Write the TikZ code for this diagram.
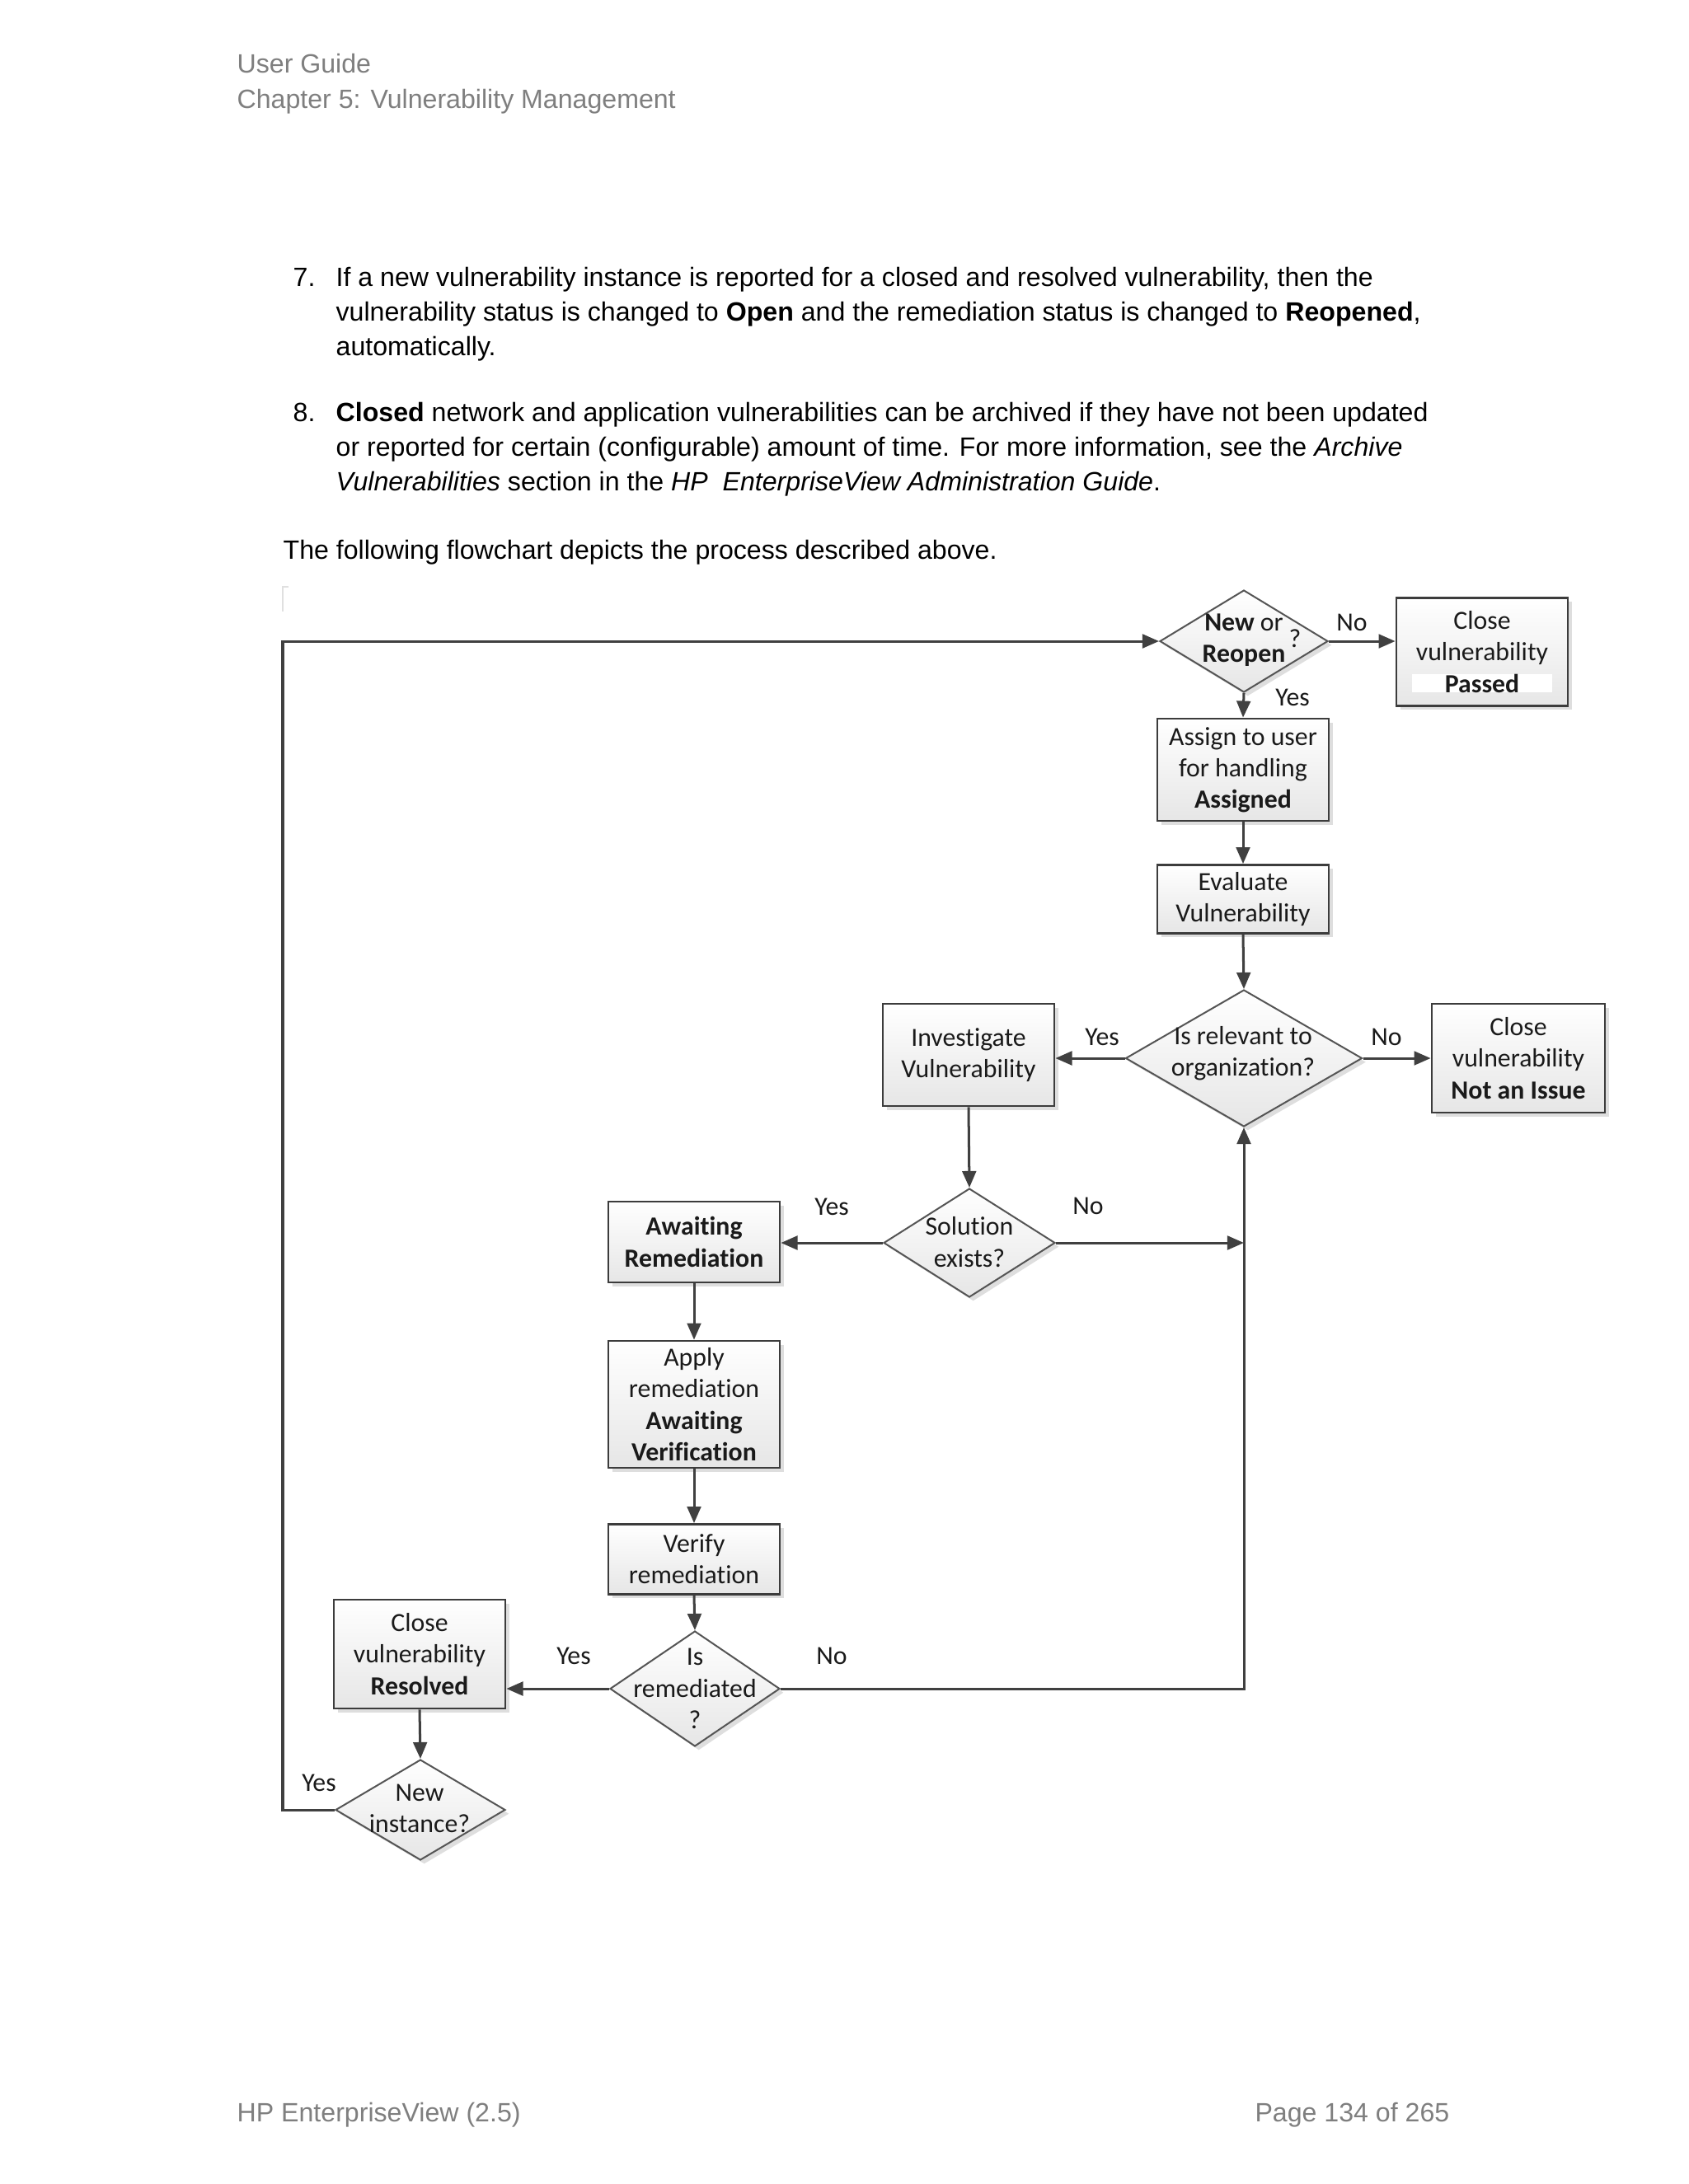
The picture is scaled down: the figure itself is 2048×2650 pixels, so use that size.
\documentclass[tikz,border=0pt]{standalone}
\usepackage{fontspec}
\setmainfont{Liberation Sans}
\newfontfamily\flowfont[Ligatures={NoCommon}]{Carlito}
\usetikzlibrary{shapes.geometric,arrows.meta,shadows}
\definecolor{boxc}{HTML}{3C3C3C}
\definecolor{diac}{HTML}{555555}
\definecolor{arrc}{HTML}{404040}
\definecolor{fillb}{HTML}{E6E6E6}
\definecolor{txt}{HTML}{1A1A1A}
\definecolor{headc}{HTML}{7F7F7F}
\newcommand{\pxu}{0.29886pt}
\tikzset{
  flow/.style={font=\flowfont\fontsize{9.5}{11.4}\selectfont, text=txt},
  box/.style={flow, draw=boxc, line width=0.85pt, top color=white, bottom color=fillb,
    minimum width=208*\pxu, align=center, inner sep=0pt,
    drop shadow={shadow xshift=1.4pt, shadow yshift=-1.4pt, fill=black!25, opacity=0.5}},
  dia/.style={shape=diamond, draw=diac, line width=0.6pt, top color=white, bottom color=fillb,
    inner sep=0pt,
    drop shadow={shadow xshift=1.4pt, shadow yshift=-1.4pt, fill=black!25, opacity=0.5}},
  dtext/.style={flow, align=center, inner sep=0pt},
  lbl/.style={flow, inner sep=0pt},
  arr/.style={draw=arrc, line width=0.9pt, -{Triangle[length=6pt,width=5pt]}},
  ln/.style={draw=arrc, line width=0.9pt},
  body/.style={anchor=base west, inner sep=0pt, font=\fontsize{9.6}{12}\selectfont},
  head/.style={body, text=headc},
}
\begin{document}
\begin{tikzpicture}[x=0.29886pt, y=-0.29886pt]
\useasboundingbox[fill=white] (0,0) rectangle (2048,2650);

% header
\node[head] (h1) at (287,88) {User Guide};
\node[head] (h2) at (287,131) {Chapter 5: Vulnerability Management};

% body text
\node[body] (n7) at (355,347) {7.};
\node[body] (t7a) at (407,347) {If a new vulnerability instance is reported for a closed and resolved vulnerability, then the};
\node[body] (t7b) at (407,389) {vulnerability status is changed to \textbf{Open} and the remediation status is changed to \textbf{Reopened},};
\node[body] (t7c) at (407,431) {automatically.};
\node[body] (n8) at (355,511) {8.};
\node[body] (t8a) at (407,511) {\textbf{Closed} network and application vulnerabilities can be archived if they have not been updated};
\node[body] (t8b) at (407,553) {or reported for certain (configurable) amount of time. For more information, see the \textit{Archive}};
\node[body] (t8c) at (407,595) {\textit{Vulnerabilities} section in the \textit{HP\ \ EnterpriseView Administration Guide}.};
\node[body] (tf) at (343,678) {The following flowchart depicts the process described above.};

% faint corner mark
\draw[black!12, line width=0.5pt] (350,712) -- (343,712) -- (343,742);

% flowchart shapes
\node[dia, minimum width=204*\pxu, minimum height=124*\pxu] (dnew) at (1509,778) {};
\node[dtext] (dnewt) at (1509,777) {\textbf{New} or\\\textbf{Reopen}};
\node[lbl] (dnewq) at (1571,775) {?};

\node[box, minimum height=131*\pxu] (passed) at (1798,791)
  {Close\\vulnerability\\{\setlength{\fboxsep}{0pt}\colorbox{white}{\makebox[51pt]{\textbf{Passed}}}}};

\node[box, minimum height=124*\pxu] (assign) at (1508,934) {Assign to user\\for handling\\\textbf{Assigned}};
\node[box, minimum height=83*\pxu] (eval) at (1508,1091) {Evaluate\\Vulnerability};

\node[dia, minimum width=287*\pxu, minimum height=166*\pxu] (drel) at (1509,1284) {};
\node[dtext] (drelt) at (1508,1278) {Is relevant to\\organization?};

\node[box, minimum height=124*\pxu] (invest) at (1175,1280) {Investigate\\Vulnerability};
\node[box, minimum width=210*\pxu, minimum height=132*\pxu] (notissue) at (1842,1284) {Close\\vulnerability\\\textbf{Not an Issue}};

\node[dia, minimum width=208*\pxu, minimum height=132*\pxu] (dsol) at (1176,1508) {};
\node[dtext] (dsolt) at (1176,1507) {Solution\\exists?};

\node[box, minimum height=98*\pxu] (await) at (842,1507) {\textbf{Awaiting}\\\textbf{Remediation}};
\node[box, minimum height=154*\pxu] (apply) at (842,1704) {Apply\\remediation\\\textbf{Awaiting}\\\textbf{Verification}};
\node[box, minimum height=85*\pxu] (verify) at (842,1892) {Verify\\remediation};

\node[dia, minimum width=206*\pxu, minimum height=140*\pxu] (drem) at (843,2049) {};
\node[dtext] (dremt) at (843,2049) {Is\\remediated\\?};

\node[box, minimum height=132*\pxu] (resolved) at (509,2007) {Close\\vulnerability\\\textbf{Resolved}};

\node[dia, minimum width=206*\pxu, minimum height=122*\pxu] (dinst) at (510,2196) {};
\node[dtext] (dinstt) at (509,2194) {New\\instance?};

% helper coordinates
\coordinate (cl1) at (343,2196);
\coordinate (cl2) at (343,778);
\coordinate (csol) at (1509,1508);
\coordinate (crem) at (1509,2049);

% connectors
\draw[arr] (dinst.west) -- (cl1) -- (cl2) -- (dnew.west);
\draw[arr] (dnew.east) -- (passed.west |- dnew.east);
\draw[arr] (dnew.south) -- (assign.north);
\draw[arr] (assign.south) -- (eval.north);
\draw[arr] (eval.south) -- (drel.north);
\draw[arr] (drel.west) -- (invest.east |- drel.west);
\draw[arr] (drel.east) -- (notissue.west |- drel.east);
\draw[arr] (invest.south) -- (dsol.north);
\draw[arr] (dsol.west) -- (await.east |- dsol.west);
\draw[arr] (dsol.east) -- (csol);
\draw[arr] (await.south) -- (apply.north);
\draw[arr] (apply.south) -- (verify.north);
\draw[arr] (verify.south) -- (drem.north);
\draw[arr] (drem.west) -- (resolved.east |- drem.west);
\draw[arr] (drem.east) -- (crem) -- (drel.south);
\draw[arr] (resolved.south) -- (dinst.north);

% connector labels
\node[lbl] (lno1) at (1640,755) {No};
\node[lbl] (lyes1) at (1568,846) {Yes};
\node[lbl] (lyes2) at (1337,1258) {Yes};
\node[lbl] (lno2) at (1682,1258) {No};
\node[lbl] (lyes3) at (1009,1464) {Yes};
\node[lbl] (lno3) at (1320,1463) {No};
\node[lbl] (lyes4) at (696,2009) {Yes};
\node[lbl] (lno4) at (1009,2009) {No};
\node[lbl] (lyes5) at (387,2163) {Yes};

% footer
\node[head] (f1) at (287,2574) {HP EnterpriseView (2.5)};
\node[head, anchor=base east] (f2) at (1759,2574) {Page 134 of 265};
\end{tikzpicture}
\end{document}
